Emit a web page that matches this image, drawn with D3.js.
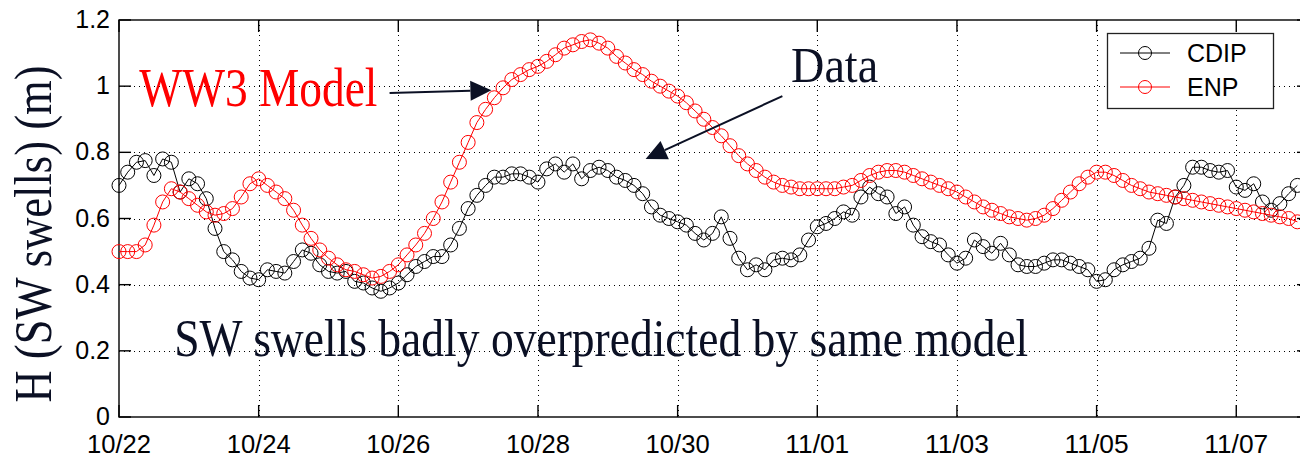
<!DOCTYPE html>
<html>
<head>
<meta charset="utf-8">
<script src="https://cdn.jsdelivr.net/npm/d3@7"></script>
<style>
  body { margin: 0; background: #fff; }
  svg { display: block; }
  .tick-label { font-family: "Liberation Sans", Arial, sans-serif; font-size: 25px; fill: #000; }
  .note { font-family: "Liberation Serif", "Times New Roman", serif; }
</style>
</head>
<body>
<svg id="chart" width="1300" height="458"></svg>
<script>
// buoy record starts 10/22 00:00, one value every 3 hours
const startDay = "2006/10/22";
const stepHours = 3;

const cdip = [
  0.70, 0.74, 0.77, 0.775, 0.73, 0.78, 0.77, 0.68, 0.72, 0.705, 0.66, 0.57, 0.50, 0.475, 0.44, 0.42,
  0.415, 0.445, 0.44, 0.435, 0.47, 0.505, 0.495, 0.46, 0.44, 0.435, 0.44, 0.41, 0.405, 0.39, 0.38, 0.39,
  0.405, 0.43, 0.455, 0.47, 0.485, 0.485, 0.52, 0.57, 0.63, 0.67, 0.70, 0.725, 0.725, 0.735, 0.735, 0.725,
  0.71, 0.75, 0.765, 0.74, 0.765, 0.72, 0.745, 0.755, 0.745, 0.725, 0.715, 0.70, 0.675, 0.635, 0.61, 0.60,
  0.59, 0.58, 0.555, 0.535, 0.555, 0.605, 0.54, 0.48, 0.445, 0.46, 0.445, 0.475, 0.48, 0.475, 0.49, 0.535,
  0.575, 0.585, 0.60, 0.62, 0.61, 0.665, 0.695, 0.675, 0.665, 0.615, 0.635, 0.58, 0.545, 0.53, 0.52, 0.49,
  0.465, 0.48, 0.535, 0.515, 0.495, 0.525, 0.49, 0.46, 0.455, 0.455, 0.465, 0.475, 0.475, 0.465, 0.455, 0.445,
  0.41, 0.415, 0.445, 0.46, 0.47, 0.48, 0.51, 0.595, 0.585, 0.665, 0.70, 0.755, 0.755, 0.745, 0.74, 0.745,
  0.695, 0.685, 0.705, 0.65, 0.625, 0.645, 0.675, 0.70
];

const enp = [
  0.50, 0.50, 0.50, 0.52, 0.58, 0.65, 0.69, 0.68, 0.66, 0.64, 0.62, 0.61, 0.615, 0.63, 0.665, 0.705,
  0.72, 0.70, 0.68, 0.66, 0.625, 0.58, 0.54, 0.505, 0.48, 0.46, 0.445, 0.44, 0.43, 0.42, 0.425, 0.44,
  0.46, 0.49, 0.52, 0.555, 0.60, 0.65, 0.71, 0.77, 0.83, 0.89, 0.93, 0.965, 0.995, 1.02, 1.035, 1.05,
  1.06, 1.075, 1.095, 1.115, 1.125, 1.135, 1.14, 1.13, 1.115, 1.09, 1.07, 1.05, 1.035, 1.015, 1.0, 0.985,
  0.97, 0.95, 0.925, 0.90, 0.875, 0.85, 0.82, 0.79, 0.765, 0.745, 0.725, 0.71, 0.70, 0.695, 0.69, 0.69,
  0.69, 0.69, 0.69, 0.695, 0.70, 0.715, 0.73, 0.74, 0.745, 0.745, 0.74, 0.73, 0.72, 0.71, 0.70, 0.69,
  0.68, 0.665, 0.65, 0.635, 0.625, 0.615, 0.605, 0.60, 0.595, 0.60, 0.61, 0.63, 0.655, 0.68, 0.705, 0.725,
  0.74, 0.74, 0.73, 0.715, 0.70, 0.69, 0.68, 0.675, 0.67, 0.665, 0.66, 0.655, 0.65, 0.645, 0.64, 0.635,
  0.63, 0.625, 0.62, 0.615, 0.61, 0.605, 0.60, 0.59
];

const yTicks = [0, 0.2, 0.4, 0.6, 0.8, 1, 1.2];
const xTickLabels = ["10/22", "10/24", "10/26", "10/28", "10/30", "11/01", "11/03", "11/05", "11/07"];
const seriesNames = ["CDIP", "ENP"];

const ink = "#0b1024";
const margin = { left: 119, top: 20, right: 1309, bottom: 417 };

const svg = d3.select("#chart");
const parseDay = d3.utcParse("%Y/%m/%d");
const t0 = parseDay(startDay);
const timeAt = i => d3.utcHour.offset(t0, i * stepHours);
const tickDates = xTickLabels.map(s => parseDay("2006/" + s));

const x = d3.scaleUtc()
  .domain([t0, d3.utcHour.offset(t0, 17 * 24 + 1.5)])
  .range([margin.left, margin.right]);
const y = d3.scaleLinear().domain([0, 1.2]).range([margin.bottom, margin.top]);

// dotted grid
const grid = svg.append("g").attr("stroke", "#000").attr("stroke-width", 1).attr("stroke-dasharray", "1,4");
grid.selectAll(".gx").data(tickDates.slice(1)).join("line")
  .attr("x1", d => Math.round(x(d)) + 0.5).attr("x2", d => Math.round(x(d)) + 0.5)
  .attr("y1", margin.top).attr("y2", margin.bottom);
grid.selectAll(".gy").data(yTicks.slice(1, -1)).join("line")
  .attr("y1", d => Math.round(y(d)) + 0.5).attr("y2", d => Math.round(y(d)) + 0.5)
  .attr("x1", margin.left).attr("x2", margin.right);

// frame and inward ticks
const axes = svg.append("g").attr("stroke", "#000").attr("stroke-width", 1.4).attr("fill", "none");
axes.append("rect")
  .attr("x", margin.left).attr("y", margin.top)
  .attr("width", margin.right - margin.left).attr("height", margin.bottom - margin.top);
const tl = 12;
axes.selectAll(".tb").data(tickDates).join("line")
  .attr("x1", d => x(d)).attr("x2", d => x(d)).attr("y1", margin.bottom).attr("y2", margin.bottom - tl);
axes.selectAll(".tt").data(tickDates).join("line")
  .attr("x1", d => x(d)).attr("x2", d => x(d)).attr("y1", margin.top).attr("y2", margin.top + tl);
axes.selectAll(".tlft").data(yTicks).join("line")
  .attr("y1", d => y(d)).attr("y2", d => y(d)).attr("x1", margin.left).attr("x2", margin.left + tl);
axes.selectAll(".trgt").data(yTicks).join("line")
  .attr("y1", d => y(d)).attr("y2", d => y(d)).attr("x1", margin.right).attr("x2", margin.right - tl);

svg.append("g").selectAll("text").data(yTicks).join("text")
  .attr("class", "tick-label")
  .attr("x", 110).attr("y", d => y(d) + 8)
  .attr("text-anchor", "end")
  .text(d => d3.format("~g")(d));

svg.append("g").selectAll("text").data(tickDates).join("text")
  .attr("class", "tick-label")
  .attr("x", d => x(d)).attr("y", 453)
  .attr("text-anchor", "middle")
  .attr("textLength", 64).attr("lengthAdjust", "spacingAndGlyphs")
  .text((d, i) => xTickLabels[i]);

// series
const colors = { CDIP: "#000", ENP: "#ff0000" };
const line = d3.line().x((d, i) => x(timeAt(i))).y(d => y(d));
[cdip, enp].forEach((vals, k) => {
  const c = colors[seriesNames[k]];
  const g = svg.append("g");
  g.append("path").attr("d", line(vals)).attr("fill", "none").attr("stroke", c).attr("stroke-width", 1);
  g.selectAll("circle").data(vals).join("circle")
    .attr("cx", (d, i) => x(timeAt(i))).attr("cy", d => y(d)).attr("r", 7)
    .attr("fill", "none").attr("stroke", c).attr("stroke-width", 1);
});

// y label
svg.append("text").attr("class", "note")
  .attr("transform", "translate(51,234) rotate(-90)")
  .attr("text-anchor", "middle")
  .attr("font-size", 52).attr("fill", ink)
  .attr("textLength", 337).attr("lengthAdjust", "spacingAndGlyphs")
  .text("H (SW swells) (m)");

// annotations, anchored in data units
const at = (dayOffset, v) => [x(d3.utcHour.offset(t0, dayOffset * 24)), y(v)];
function note(txt, pos, size, len, color) {
  const p = at(pos[0], pos[1]);
  svg.append("text").attr("class", "note")
    .attr("x", p[0]).attr("y", p[1])
    .attr("font-size", size).attr("fill", color)
    .attr("textLength", len).attr("lengthAdjust", "spacingAndGlyphs")
    .text(txt);
}
function arrow(from, to) {
  const a = at(from[0], from[1]), b = at(to[0], to[1]);
  const ang = Math.atan2(b[1] - a[1], b[0] - a[0]);
  const hl = 21, hw = 10;
  const bx = b[0] - hl * Math.cos(ang), by = b[1] - hl * Math.sin(ang);
  svg.append("line").attr("x1", a[0]).attr("y1", a[1]).attr("x2", bx).attr("y2", by)
    .attr("stroke", ink).attr("stroke-width", 2);
  const px = -Math.sin(ang) * hw, py = Math.cos(ang) * hw;
  svg.append("path")
    .attr("d", `M${b[0]},${b[1]}L${bx + px},${by + py}L${bx - px},${by - py}Z`)
    .attr("fill", ink);
}

note("WW3 Model", [0.30, 0.94], 54, 238, "#ff0000");
note("Data", [9.66, 1.013], 50, 87, ink);
note("SW swells badly overpredicted by same model", [0.817, 0.184], 52, 854, ink);
arrow([3.914, 0.979], [5.348, 0.988]);
arrow([9.52, 0.970], [7.556, 0.780]);

// legend
const lg = svg.append("g");
lg.append("rect").attr("x", 1107.5).attr("y", 33.5).attr("width", 166).attr("height", 75)
  .attr("fill", "#fff").attr("stroke", "#222").attr("stroke-width", 1.3);
seriesNames.forEach((name, i) => {
  const cy = 53 + i * 34;
  lg.append("line").attr("x1", 1120).attr("x2", 1170).attr("y1", cy).attr("y2", cy)
    .attr("stroke", colors[name]).attr("stroke-width", 1);
  lg.append("circle").attr("cx", 1145).attr("cy", cy).attr("r", 6.5)
    .attr("fill", "none").attr("stroke", colors[name]).attr("stroke-width", 1);
  lg.append("text").attr("class", "tick-label").attr("x", 1187).attr("y", cy + 9)
    .style("font-size", "25px").text(name);
});
</script>
</body>
</html>
